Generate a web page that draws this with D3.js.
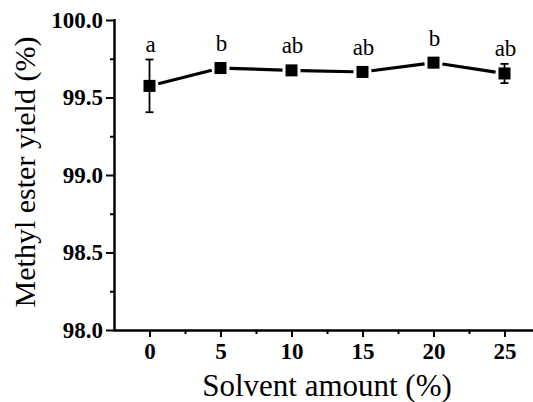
<!DOCTYPE html>
<html>
<head>
<meta charset="utf-8">
<script src="https://cdn.jsdelivr.net/npm/d3@7"></script>
<style>
  html, body { margin: 0; padding: 0; background: #fff; }
  svg { display: block; }
</style>
</head>
<body>
<svg id="chart" width="533" height="402"></svg>
<script>
// ---- data ----
const solvent = [0, 5, 10, 15, 20, 25];
const yieldMean = [99.575, 99.69, 99.675, 99.665, 99.725, 99.655];
const yieldErr = [0.17, 0.03, 0.02, 0.02, 0.03, 0.062];
const groupLetters = ["a", "b", "ab", "ab", "b", "ab"];
const xTicks = [0, 5, 10, 15, 20, 25];
const yTicks = [98.0, 98.5, 99.0, 99.5, 100.0];
const xTitle = "Solvent amount (%)";
const yTitle = "Methyl ester yield (%)";

// ---- layout ----
const svg = d3.select("#chart");
const plotLeft = 114, plotTop = 20, plotBottom = 330;
const x = d3.scaleLinear().domain([-2.5, 27.5]).range([plotLeft, 540]);
const y = d3.scaleLinear().domain([98, 100]).range([plotBottom, plotTop]);
const serif = "'Liberation Serif', 'Times New Roman', serif";

// minor ticks
const xMinor = d3.range(2.5, 27.6, 5);
const yMinor = d3.range(98.25, 100, 0.5);

const gx = svg.append("g").attr("transform", `translate(0,${plotBottom})`);
gx.call(d3.axisBottom(x).tickValues(xMinor).tickSize(4).tickFormat(""));
gx.select(".domain").remove();
gx.selectAll(".tick line").attr("stroke-width", 2);
const gx2 = svg.append("g").attr("transform", `translate(0,${plotBottom})`);
gx2.call(d3.axisBottom(x).tickValues(xTicks).tickSize(7).tickPadding(6).tickFormat(d3.format("d")));
gx2.select(".domain").attr("d", `M${plotLeft},0.5H533`).attr("stroke-width", 2.5);
gx2.selectAll(".tick line").attr("stroke-width", 2);
gx2.selectAll(".tick text").attr("font-family", serif).attr("font-size", 23).attr("font-weight", "bold").attr("fill", "#000");

const gy = svg.append("g").attr("transform", `translate(${plotLeft},0)`);
gy.call(d3.axisLeft(y).tickValues(yMinor).tickSize(4).tickFormat(""));
gy.select(".domain").remove();
gy.selectAll(".tick line").attr("stroke-width", 2);
const gy2 = svg.append("g").attr("transform", `translate(${plotLeft},0)`);
gy2.call(d3.axisLeft(y).tickValues(yTicks).tickSize(8).tickPadding(3).tickFormat(d3.format(".1f")));
gy2.select(".domain").attr("d", `M0.5,${plotBottom}V${plotTop - 1}`).attr("stroke-width", 2.5);
gy2.selectAll(".tick line").attr("stroke-width", 2);
gy2.selectAll(".tick text").attr("font-family", serif).attr("font-size", 23).attr("font-weight", "bold").attr("fill", "#000");

// axis titles
svg.append("text")
  .attr("x", 327).attr("y", 396)
  .attr("text-anchor", "middle")
  .attr("font-family", serif).attr("font-size", 31)
  .text(xTitle);
svg.append("text")
  .attr("transform", `translate(35,${172}) rotate(-90)`)
  .attr("text-anchor", "middle")
  .attr("font-family", serif).attr("font-size", 30)
  .text(yTitle);

// data
const pts = solvent.map((s, i) => ({ s, m: yieldMean[i], e: yieldErr[i], l: groupLetters[i] }));

// connecting line segments with gaps at symbols
const gap = 9;
for (let i = 0; i < pts.length - 1; i++) {
  const x1 = x(pts[i].s), y1 = y(pts[i].m), x2 = x(pts[i + 1].s), y2 = y(pts[i + 1].m);
  const dx = x2 - x1, dy = y2 - y1, len = Math.hypot(dx, dy);
  const ux = dx / len, uy = dy / len;
  svg.append("line")
    .attr("x1", x1 + ux * gap).attr("y1", y1 + uy * gap)
    .attr("x2", x2 - ux * gap).attr("y2", y2 - uy * gap)
    .attr("stroke", "#000").attr("stroke-width", 3.2);
}

// error bars
const eb = svg.append("g").attr("stroke", "#000").attr("stroke-width", 1.8);
pts.forEach(p => {
  eb.append("line").attr("x1", x(p.s)).attr("x2", x(p.s)).attr("y1", y(p.m - p.e)).attr("y2", y(p.m + p.e));
  [p.m - p.e, p.m + p.e].forEach(v => {
    eb.append("line").attr("x1", x(p.s) - 4).attr("x2", x(p.s) + 4).attr("y1", y(v)).attr("y2", y(v));
  });
});

// markers
const sz = 12;
svg.append("g").selectAll("rect").data(pts).join("rect")
  .attr("x", d => x(d.s) - sz / 2).attr("y", d => y(d.m) - sz / 2)
  .attr("width", sz).attr("height", sz).attr("fill", "#000");

// significance letters
svg.append("g").selectAll("text").data(pts).join("text")
  .attr("x", d => x(d.s) + 1)
  .attr("y", d => Math.min(y(d.m) - 17, y(d.m + d.e) - 8))
  .attr("text-anchor", "middle")
  .attr("font-family", serif).attr("font-size", 23)
  .text(d => d.l);
</script>
</body>
</html>
